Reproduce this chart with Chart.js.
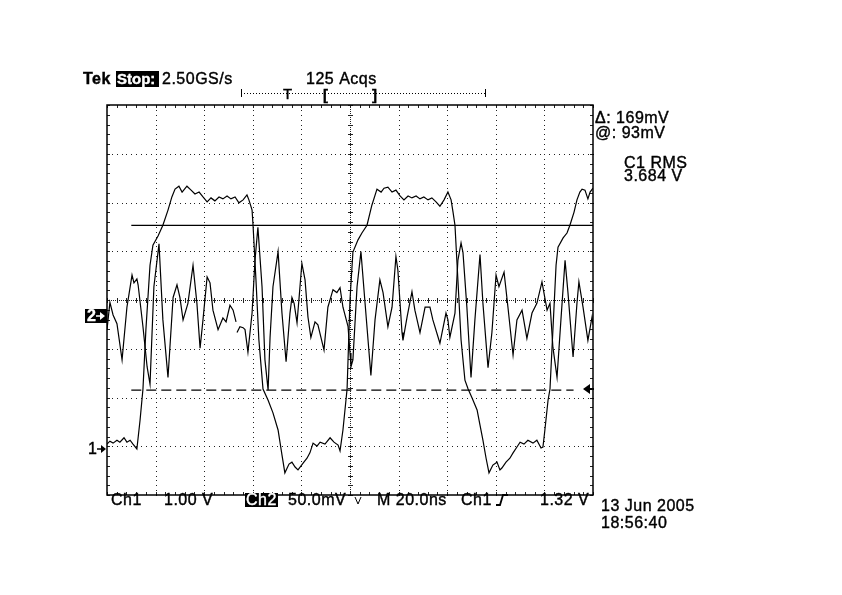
<!DOCTYPE html>
<html lang="en">
<head>
    <meta charset="UTF-8">
    <title>Tek scope capture</title>
    <script src="https://cdn.jsdelivr.net/npm/chart.js"></script>
    <style>
        body { margin: 0; background: #fff; }
        #wrap { width: 842px; height: 595px; }
    </style>
</head>
<body>
    <div id="wrap"><canvas id="scope" width="842" height="595"></canvas></div>

    <script>
        // scope settings
        const nsPerDiv = 20;
        const ch1VoltsPerDiv = 1.0;
        const ch2MvPerDiv = 50;
        const ch1Position = 0.964;   // ground marker, divisions above bottom
        const ch2Position = 3.672;
        const cursorLevels = [93, -76]; // mV on Ch2
        const cursorStart = 10;          // ns
        const dashedEnd = 192;
        const trigMarker = 1.21;         // V on Ch1

        // Ch1 trace, time in ns and volts
        const ch1Time = [0.0, 1.2, 2.5, 4.1, 5.3, 7.0, 8.2, 9.5, 10.7, 12.3, 13.6, 14.8, 16.0, 17.7, 18.9, 21.0, 23.0, 25.1, 26.7, 28.0,
            29.6, 30.9, 32.9, 34.6, 36.2, 37.9, 39.5, 41.2, 42.8, 44.4, 46.1, 47.7, 49.4, 51.0, 52.7, 54.3, 56.0, 57.6, 58.4, 59.7,
            60.1, 61.3, 62.5, 64.2, 66.3, 68.3, 70.4, 72.0, 73.2, 74.9, 76.1, 77.4, 78.6, 80.7, 82.3, 83.5, 84.8, 86.4, 87.7, 89.7,
            91.8, 93.4, 95.1, 95.9, 97.1, 98.8, 100.0, 101.2, 103.3, 104.9, 107.0, 109.0, 111.1, 112.8, 114.0, 115.6, 117.3, 118.9, 120.6, 122.2,
            123.9, 125.5, 127.2, 128.8, 130.4, 132.1, 133.7, 135.4, 137.0, 138.7, 140.3, 141.6, 142.4, 143.2, 144.4, 145.7, 147.3, 148.6, 150.2, 152.3,
            153.5, 154.7, 156.0, 157.2, 158.8, 160.5, 161.7, 162.5, 164.2, 165.8, 167.1, 168.7, 170.0, 171.6, 173.2, 175.3, 176.9, 178.6, 179.4, 180.2,
            181.5, 182.3, 183.5, 184.8, 185.6, 187.7, 189.3, 190.5, 192.2, 193.4, 194.6, 195.5, 196.7, 197.9, 198.8, 200.0];
        const ch1Volts = [0.08, 0.14, 0.10, 0.16, 0.12, 0.21, 0.12, 0.16, 0.08, -0.02, 0.57, 1.21, 2.42, 3.75, 4.16, 4.35, 4.57, 4.88, 5.15, 5.31,
            5.37, 5.25, 5.37, 5.29, 5.21, 5.25, 5.15, 5.05, 5.13, 5.07, 5.15, 5.11, 5.17, 5.11, 5.15, 5.03, 5.09, 5.19, 5.09, 4.88,
            4.57, 3.45, 2.22, 1.21, 0.98, 0.72, 0.37, -0.14, -0.51, -0.33, -0.29, -0.39, -0.45, -0.31, -0.21, -0.10, 0.10, 0.04, 0.12, 0.08,
            0.21, 0.12, 0.06, -0.06, 0.37, 1.21, 3.04, 4.02, 4.27, 4.41, 4.57, 4.98, 5.31, 5.25, 5.33, 5.35, 5.25, 5.29, 5.17, 5.09,
            5.17, 5.13, 5.17, 5.11, 5.15, 5.09, 5.13, 5.05, 4.96, 5.09, 5.25, 5.09, 4.84, 4.57, 3.45, 2.22, 1.39, 1.21, 1.03, 0.78,
            0.47, 0.16, -0.21, -0.51, -0.35, -0.29, -0.45, -0.41, -0.29, -0.21, -0.10, 0.02, 0.12, 0.08, 0.16, 0.10, 0.16, 0.00, 0.02, 0.37,
            0.98, 1.21, 2.42, 3.75, 4.12, 4.31, 4.41, 4.57, 4.84, 5.09, 5.25, 5.31, 5.29, 5.11, 5.25, 5.33];

        // Ch2 trace, time in ns and millivolts (null = gap in the record)
        const ch2Time = [0.0, 1.2, 2.5, 4.1, 6.2, 8.2, 10.3, 11.1, 12.3, 12.8, 14.8, 16.5, 17.7, 19.3, 21.4, 23.0, 25.1, 27.2, 28.8, 30.0,
            31.3, 33.3, 35.4, 37.0, 38.3, 39.5, 41.2, 42.4, 43.6, 45.7, 47.7, 49.0, 50.6, 51.9, 53.1, 53.3, 53.5, 54.7, 56.0, 56.8,
            58.0, 59.7, 60.9, 62.1, 63.8, 65.0, 66.3, 67.1, 68.3, 70.4, 72.0, 73.7, 75.3, 76.1, 77.0, 78.2, 80.2, 81.5, 82.7, 83.9,
            85.6, 86.8, 89.3, 90.9, 93.0, 94.6, 95.9, 97.1, 99.2, 100.0, 100.4, 101.2, 102.9, 104.5, 106.2, 108.6, 110.3, 112.3, 113.6, 115.6,
            117.3, 118.9, 119.7, 121.4, 121.8, 123.5, 125.5, 126.7, 128.8, 130.9, 132.9, 134.1, 137.0, 139.5, 140.3, 141.1, 143.2, 144.4, 145.7, 146.5,
            148.1, 149.8, 151.4, 153.5, 154.7, 156.8, 158.4, 160.1, 161.3, 163.4, 165.0, 167.1, 168.7, 170.8, 172.8, 174.9, 176.9, 179.0, 181.1, 182.3,
            183.5, 185.2, 186.8, 188.5, 189.7, 191.8, 193.4, 194.2, 195.9, 197.9, 199.6, 200.0];
        const ch2Mv = [-14, 14, 1, -8, -45, 9, 42, 34, 38, 32, -11, -52, -70, 30, 74, -4, -63, 19, 32, 19,
            -4, 13, 52, 13, -33, -4, 40, 34, 6, -14, -2, -6, 11, 6, -6, null, -17, -11, -12, -14,
            -37, 3, 57, 91, 30, -45, -76, -22, 30, 66, 3, -47, 3, 19, 13, -7, 54, 37, -1, -22,
            -6, -9, -35, 9, 27, 24, 29, 9, -11, -38, -52, -45, 30, 66, 13, -61, -4, 37, 24, -11,
            9, 61, 47, -17, -25, -1, 25, 6, -17, 9, 9, -4, -28, 3, -4, -22, 3, 57, 75, 65,
            9, -63, -4, 63, 13, -53, -17, 42, 30, 45, 9, -40, -4, 6, -23, 3, 13, 35, 6, 13,
            -32, -63, -4, 57, 24, -42, 13, 35, 9, -25, -1, -9];

        const font = '16px "Liberation Sans", Arial, sans-serif';
        const boldFont = 'bold 16px "Liberation Sans", Arial, sans-serif';

        function pts(xs, ys) {
            return xs.map((x, i) => ({ x: x, y: ys[i] }));
        }

        function drawGraticule(ctx, a) {
            const dx = (a.right - a.left) / 10, dy = (a.bottom - a.top) / 8;
            ctx.save();
            ctx.fillStyle = '#222';
            // dotted division lines
            for (let i = 1; i < 10; i++) {
                if (i === 5) continue;
                const x = Math.round(a.left + i * dx);
                for (let k = 0; k <= 80; k++) ctx.fillRect(x, Math.round(a.top + k * dy / 10), 1, 1);
            }
            for (let j = 1; j < 8; j++) {
                if (j === 4) continue;
                const y = Math.round(a.top + j * dy);
                for (let k = 0; k <= 100; k++) ctx.fillRect(Math.round(a.left + k * dx / 10), y, 1, 1);
            }
            // centre lines with minor ticks
            const cx = Math.round(a.left + 5 * dx), cy = Math.round(a.top + 4 * dy);
            for (let y = a.top; y < a.bottom; y += 2) ctx.fillRect(cx, Math.round(y), 1, 1);
            for (let x = a.left; x < a.right; x += 2) ctx.fillRect(Math.round(x), cy, 1, 1);
            for (let k = 0; k <= 40; k++) {
                const y = Math.round(a.top + k * dy / 5);
                ctx.fillRect(cx - 2, y, 5, 1);
                ctx.fillRect(a.left, y, 3, 1);
                ctx.fillRect(a.right - 3, y, 3, 1);
            }
            for (let k = 0; k <= 50; k++) {
                const x = Math.round(a.left + k * dx / 5);
                ctx.fillRect(x, cy - 2, 1, 5);
                ctx.fillRect(x, a.top, 1, 3);
                ctx.fillRect(x, a.bottom - 3, 1, 3);
            }
            ctx.strokeStyle = '#000';
            ctx.lineWidth = 1.5;
            ctx.strokeRect(a.left, a.top, a.right - a.left, a.bottom - a.top);
            ctx.restore();
        }

        // scope readout text is a little heavier than plain Liberation
        function text(ctx, s, x, y, f, col) {
            ctx.font = f || font;
            ctx.fillStyle = col || '#000';
            ctx.strokeStyle = col || '#000';
            ctx.lineWidth = 0.4;
            ctx.fillText(s, x, y);
            ctx.strokeText(s, x, y);
        }

        function arrowRight(ctx, x, y, col) {
            ctx.strokeStyle = col; ctx.fillStyle = col; ctx.lineWidth = 1.5;
            ctx.beginPath(); ctx.moveTo(x, y); ctx.lineTo(x + 6, y); ctx.stroke();
            ctx.beginPath(); ctx.moveTo(x + 9, y); ctx.lineTo(x + 4, y - 4); ctx.lineTo(x + 4, y + 4); ctx.closePath(); ctx.fill();
        }

        const scopeFrame = {
            id: 'scopeFrame',
            beforeDatasetsDraw(chart) {
                drawGraticule(chart.ctx, chart.chartArea);
            },
            afterDraw(chart) {
                const ctx = chart.ctx;
                ctx.save();
                ctx.letterSpacing = '0.5px';
                // header
                text(ctx, 'Tek', 83, 84, boldFont);
                ctx.fillStyle = '#000'; ctx.fillRect(116, 71, 43, 16);
                ctx.letterSpacing = '0px';
                text(ctx, 'Stop:', 117, 84, 'bold 15px "Liberation Sans", Arial, sans-serif', '#fff');
                ctx.letterSpacing = '0.5px';
                text(ctx, '2.50GS/s', 162, 84);
                text(ctx, '125 Acqs', 306, 84);
                // record bar
                ctx.fillStyle = '#000';
                for (let x = 241; x <= 485; x += 3) ctx.fillRect(x, 93, 1, 1);
                ctx.fillRect(241, 89, 1, 8); ctx.fillRect(485, 89, 1, 8);
                text(ctx, 'T', 283, 99, '15px "Liberation Sans", Arial, sans-serif');
                text(ctx, '[', 323, 100, 'bold 15px "Liberation Sans", Arial, sans-serif');
                text(ctx, ']', 372, 100, 'bold 15px "Liberation Sans", Arial, sans-serif');

                // readouts on the right
                text(ctx, 'Δ: ' + (cursorLevels[0] - cursorLevels[1]) + 'mV', 595, 123);
                text(ctx, '@: ' + cursorLevels[0] + 'mV', 595, 138);
                text(ctx, 'C1 RMS', 624, 168);
                text(ctx, '3.684 V', 624, 181);

                // bottom line
                text(ctx, 'Ch1', 111, 505);
                text(ctx, '1.00 V', 164, 505);
                ctx.fillStyle = '#000'; ctx.fillRect(245, 493, 33, 14);
                text(ctx, 'Ch2', 246, 505, font, '#fff');
                text(ctx, '50.0mV', 288, 505);
                ctx.strokeStyle = '#000'; ctx.lineWidth = 1;
                ctx.beginPath(); ctx.moveTo(355, 497); ctx.lineTo(358, 504); ctx.lineTo(361, 497); ctx.stroke();
                text(ctx, 'M 20.0ns', 377, 505);
                text(ctx, 'Ch1', 461, 505);
                ctx.strokeStyle = '#000'; ctx.lineWidth = 1.8;
                ctx.beginPath(); ctx.moveTo(496, 505); ctx.lineTo(500, 505); ctx.lineTo(503, 495); ctx.lineTo(508, 495); ctx.stroke();
                text(ctx, '1.32 V', 540, 505);
                text(ctx, '13 Jun 2005', 601, 511);
                text(ctx, '18:56:40', 601, 528);

                // ground markers
                const g2 = chart.scales.y2.getPixelForValue(0);
                const g1 = chart.scales.y1.getPixelForValue(0);
                ctx.fillStyle = '#000'; ctx.fillRect(85, g2 - 7, 22, 14);
                text(ctx, '2', 87, g2 + 5, boldFont, '#fff');
                arrowRight(ctx, 96, g2, '#fff');
                text(ctx, '1', 88, g1 + 6, font);
                arrowRight(ctx, 97, g1 + 1, '#000');

                // trigger level marker
                const ty = chart.scales.y1.getPixelForValue(trigMarker);
                ctx.fillStyle = '#000';
                ctx.beginPath(); ctx.moveTo(583, ty); ctx.lineTo(590, ty - 5); ctx.lineTo(590, ty + 5); ctx.closePath(); ctx.fill();
                ctx.fillRect(589, ty - 1, 5, 2);
                ctx.restore();
            }
        };

        new Chart(document.getElementById('scope'), {
            type: 'line',
            data: {
                datasets: [
                    {
                        label: 'Ch1', data: pts(ch1Time, ch1Volts), yAxisID: 'y1',
                        borderColor: '#000', borderWidth: 1.2, pointRadius: 0, tension: 0
                    },
                    {
                        label: 'Ch2', data: pts(ch2Time, ch2Mv), yAxisID: 'y2', spanGaps: false,
                        borderColor: '#000', borderWidth: 1.2, pointRadius: 0, tension: 0
                    },
                    {
                        label: 'Cursor a', data: pts([cursorStart, 10 * nsPerDiv], [cursorLevels[0], cursorLevels[0]]), yAxisID: 'y2',
                        borderColor: '#000', borderWidth: 1.3, pointRadius: 0
                    },
                    {
                        label: 'Cursor b', data: pts([cursorStart, dashedEnd], [cursorLevels[1], cursorLevels[1]]), yAxisID: 'y2',
                        borderColor: '#000', borderWidth: 1.3, borderDash: [10, 5], pointRadius: 0
                    }
                ]
            },
            options: {
                responsive: false,
                animation: false,
                events: [],
                layout: { padding: { left: 107, right: 249, top: 105, bottom: 100 } },
                plugins: { legend: { display: false }, tooltip: { enabled: false } },
                scales: {
                    x: { type: 'linear', min: 0, max: 10 * nsPerDiv, display: false },
                    y1: { type: 'linear', min: -ch1Position * ch1VoltsPerDiv, max: (8 - ch1Position) * ch1VoltsPerDiv, display: false },
                    y2: { type: 'linear', min: -ch2Position * ch2MvPerDiv, max: (8 - ch2Position) * ch2MvPerDiv, display: false }
                }
            },
            plugins: [scopeFrame]
        });
    </script>
</body>
</html>
